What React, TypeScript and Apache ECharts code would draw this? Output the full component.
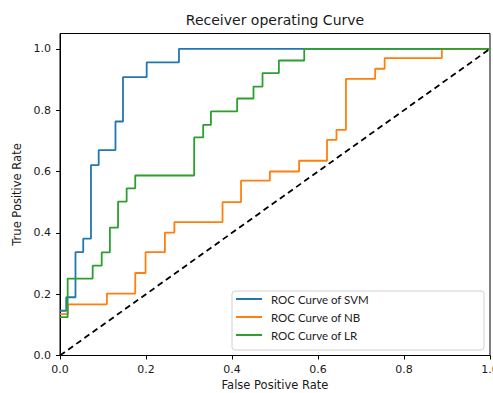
import React, { useEffect, useRef } from "react";
import * as echarts from "echarts";

// ROC data (step points: x where the jump occurs, y after the jump)
const fprSVM = [0, 0.0145, 0.036, 0.054, 0.072, 0.09, 0.129, 0.1465, 0.2016, 0.2767, 1.0];
const tprSVM = [0.146, 0.19, 0.337, 0.381, 0.621, 0.67, 0.763, 0.908, 0.956, 1.0, 1.0];

const fprNB = [0, 0.018, 0.109, 0.175, 0.199, 0.244, 0.266, 0.378, 0.421, 0.488, 0.556, 0.621, 0.643, 0.665, 0.733, 0.755, 0.888, 1.0];
const tprNB = [0.135, 0.167, 0.202, 0.269, 0.337, 0.401, 0.435, 0.5, 0.57, 0.6, 0.635, 0.703, 0.736, 0.902, 0.935, 0.97, 1.0, 1.0];

const fprLR = [0, 0.0178, 0.076, 0.097, 0.116, 0.135, 0.155, 0.175, 0.312, 0.333, 0.351, 0.412, 0.45, 0.471, 0.509, 0.568, 1.0];
const tprLR = [0.125, 0.251, 0.293, 0.336, 0.417, 0.502, 0.545, 0.587, 0.711, 0.752, 0.796, 0.838, 0.877, 0.921, 0.962, 1.0, 1.0];

const chanceX = [0, 1];
const chanceY = [0, 1];

const seriesNames = ["ROC Curve of SVM", "ROC Curve of NB", "ROC Curve of LR"];
const seriesColors = ["#1f77b4", "#ff7f0e", "#2ca02c"];
const tickValues = [0, 0.2, 0.4, 0.6, 0.8, 1.0];

const titleText = "Receiver operating Curve";
const xName = "False Positive Rate";
const yName = "True Positive Rate";

const zip = (xs: number[], ys: number[]) => xs.map((x, i) => [x, ys[i]]);

export default function App() {
  const ref = useRef<HTMLDivElement>(null);
  useEffect(() => {
    if (!ref.current) return;
    const chart = echarts.init(ref.current, null, { renderer: "svg" });
    const txt = "#1a1a1a";
    const curves = [
      [fprSVM, tprSVM],
      [fprNB, tprNB],
      [fprLR, tprLR],
    ];
    chart.setOption({
      animation: false,
      grid: {
        left: 60,
        top: 33.5,
        right: 3,
        bottom: 37.5,
        show: true,
        borderColor: "#000",
        borderWidth: 1,
        backgroundColor: "transparent",
        containLabel: false,
        outerBoundsMode: "none",
      },
      xAxis: {
        type: "value",
        min: 0,
        max: 1,
        interval: 0.2,
        name: xName,
        nameLocation: "middle",
        nameGap: 22,
        nameTextStyle: { fontFamily: "DejaVu Sans", fontSize: 11.5, color: txt },
        axisLine: { lineStyle: { color: "#000", width: 1 } },
        axisTick: { show: true, length: 4, lineStyle: { color: "#000" }, customValues: tickValues },
        axisLabel: {
          fontFamily: "DejaVu Sans",
          fontSize: 11,
          color: txt,
          margin: 8,
          customValues: tickValues,
          formatter: (v: number) => v.toFixed(1),
        },
        splitLine: { show: false },
      },
      yAxis: {
        type: "value",
        min: 0,
        max: 1.05,
        interval: 0.2,
        name: yName,
        nameLocation: "middle",
        nameGap: 35,
        nameTextStyle: { fontFamily: "DejaVu Sans", fontSize: 11.5, color: txt },
        axisLine: { lineStyle: { color: "#000", width: 1 } },
        axisTick: { show: true, length: 4, lineStyle: { color: "#000" }, customValues: tickValues },
        axisLabel: {
          fontFamily: "DejaVu Sans",
          fontSize: 11,
          color: txt,
          margin: 9,
          customValues: tickValues,
          formatter: (v: number) => v.toFixed(1),
        },
        splitLine: { show: false },
      },
      legend: {
        orient: "vertical",
        left: 236,
        top: 292,
        padding: 0,
        itemWidth: 26,
        itemHeight: 2,
        itemGap: 4,
        data: seriesNames.map((n) => ({ name: n, icon: "rect" })),
        textStyle: {
          fontFamily: "Lato",
          fontSize: 11.5,
          color: "#222",
          lineHeight: 14,
          padding: [0, 0, 0, 4],
        },
        z: 6,
      },
      graphic: [
        {
          type: "rect",
          z: 5,
          shape: { x: 232, y: 291, width: 252, height: 59, r: 3 },
          style: { fill: "#fff", stroke: "#d0d0d0", lineWidth: 1 },
        },
        {
          type: "text",
          x: 275,
          y: 20,
          z: 5,
          style: {
            text: titleText,
            fontFamily: "DejaVu Sans",
            fontSize: 14,
            fill: txt,
            textAlign: "center",
            textVerticalAlign: "middle",
          },
        },
      ],
      series: [
        ...curves.map(([xs, ys], i) => ({
          type: "line",
          name: seriesNames[i],
          data: zip(xs, ys),
          step: "end",
          symbol: "none",
          showSymbol: false,
          lineStyle: { color: seriesColors[i], width: 1.8 },
          itemStyle: { color: seriesColors[i] },
          z: 2,
        })),
        {
          type: "line",
          name: "chance",
          data: zip(chanceX, chanceY),
          symbol: "none",
          showSymbol: false,
          lineStyle: { color: "#000", width: 1.8, type: [6, 4] },
          itemStyle: { color: "#000" },
          z: 3,
        },
      ],
    });
    return () => chart.dispose();
  }, []);
  return <div ref={ref} style={{ width: 493, height: 393, position: "absolute", left: 0, top: 0 }} />;
}
